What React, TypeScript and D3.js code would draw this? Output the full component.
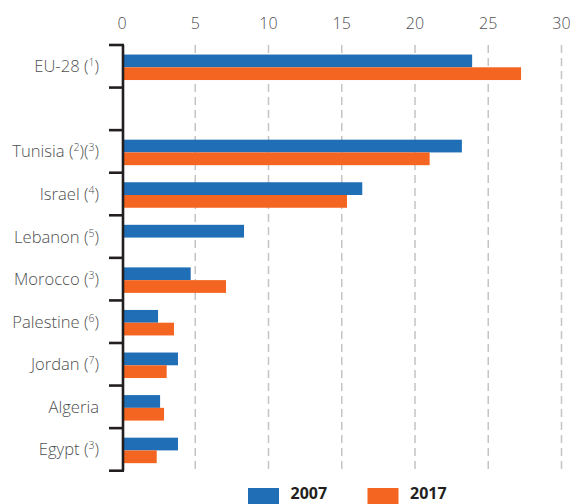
import React from "react";
import * as d3 from "d3";

const categories = ["EU-28", "", "Tunisia", "Israel", "Lebanon", "Morocco", "Palestine", "Jordan", "Algeria", "Egypt"];
const notes: string[][] = [["1"], [], ["2", "3"], ["4"], ["5"], ["3"], ["6"], ["7"], [], ["3"]];
const values2007: (number | null)[] = [23.9, null, 23.2, 16.4, 8.33, 4.69, 2.46, 3.82, 2.6, 3.82];
const values2017: (number | null)[] = [27.24, null, 21.0, 15.36, null, 7.1, 3.55, 3.05, 2.87, 2.37];
const seriesNames = ["2007", "2017"];
const xTicks = [0, 5, 10, 15, 20, 25, 30];

const W = 570;
const H = 504;
const colors: Record<string, string> = { "2007": "#1f6eb6", "2017": "#f36521" };
const FONT = "'Open Sans', 'Noto Sans', sans-serif";

export default function App() {
  const x = d3.scaleLinear().domain([0, 30]).range([122, 561.5]);
  const y = d3.scaleBand<string>().domain(categories.map((c, i) => String(i))).range([45, 470.7]).paddingInner(0).paddingOuter(0);
  const groupH = 25.5;
  const inner = d3.scaleBand<string>().domain(seriesNames).range([0, groupH]).padding(0);
  const series = [values2007, values2017];
  const boundaries = d3.range(categories.length + 1).map((k) => 45 + k * y.step());

  return (
    <svg width={W} height={H} style={{ position: "absolute", left: 0, top: 0, display: "block" }} fontFamily={FONT}>
      {xTicks.filter((t) => t > 0).map((t) => (
        <line key={"g" + t} x1={x(t)} x2={x(t)} y1={45} y2={470.7} stroke="#c4c4c4" strokeWidth={1.5} strokeDasharray="8,5" />
      ))}
      {xTicks.map((t) => (
        <text key={"t" + t} x={x(t)} y={29} textAnchor="middle" fontSize={16} fill="#4f4f51" fontWeight={300}>
          {t}
        </text>
      ))}
      {categories.map((c, i) => {
        const band = y(String(i))!;
        const top = band + (y.bandwidth() - groupH) / 2 + 1;
        return seriesNames.map((s, si) => {
          const v = series[si][i];
          if (v == null) return null;
          return (
            <rect key={c + s} x={x(0)} y={top + inner(s)!} width={x(v) - x(0)} height={inner.bandwidth()} fill={colors[s]} />
          );
        });
      })}
      <line x1={123} x2={123} y1={45} y2={470.7} stroke="#231f20" strokeWidth={2.6} />
      {boundaries.map((b, k) => (
        <line key={"k" + k} x1={109} x2={124} y1={b} y2={b} stroke="#231f20" strokeWidth={2.6} />
      ))}
      {categories.map((c, i) => {
        if (!c) return null;
        const cy = y(String(i))! + y.bandwidth() / 2;
        const n = notes[i];
        return (
          <text key={"l" + i} x={99} y={cy + 6} textAnchor="end" fontSize={16.6} fill="#4f4f51" fontWeight={300}>
            {c}
            {n.length > 0 ? " " : ""}
            {n.map((d, j) => (
              <React.Fragment key={j}>
                <tspan>(</tspan>
                <tspan fontSize={10.5} dy={-6}>{d}</tspan>
                <tspan dy={6}>)</tspan>
              </React.Fragment>
            ))}
          </text>
        );
      })}
      {seriesNames.map((s, si) => {
        const lx = si === 0 ? 248 : 367.5;
        return (
          <g key={"lg" + s}>
            <rect x={lx} y={488} width={31} height={17} fill={colors[s]} />
            <text x={lx + 42.5} y={498.5} fontSize={16} fontWeight={700} fill="#231f20">
              {s}
            </text>
          </g>
        );
      })}
    </svg>
  );
}
